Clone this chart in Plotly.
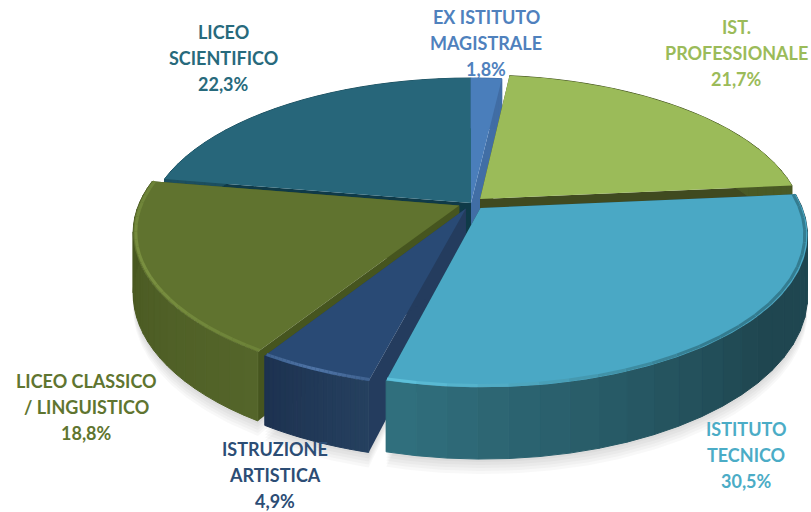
import numpy as np
import plotly.graph_objects as go

# --- data (clockwise from 12 o'clock) ---
categories = ["EX ISTITUTO MAGISTRALE", "IST. PROFESSIONALE", "ISTITUTO TECNICO",
              "ISTRUZIONE ARTISTICA", "LICEO CLASSICO / LINGUISTICO", "LICEO SCIENTIFICO"]
values = [1.8, 21.7, 30.5, 4.9, 18.8, 22.3]
label_lines = [["EX ISTITUTO", "MAGISTRALE", "1,8%"],
               ["IST.", "PROFESSIONALE", "21,7%"],
               ["ISTITUTO", "TECNICO", "30,5%"],
               ["ISTRUZIONE", "ARTISTICA", "4,9%"],
               ["LICEO CLASSICO", "/ LINGUISTICO", "18,8%"],
               ["LICEO", "SCIENTIFICO", "22,3%"]]

# --- styling / layout ---
label_x = [486, 736, 746, 275, 86, 223]
label_y = [17, 27, 429, 449, 381, 32]
label_step = 26
label_colors = ["#4f81bd", "#9bbb59", "#4bacc6", "#2c4d75", "#5f7530", "#276a7c"]
top_colors = ["#4a7ebb", "#9bbb59", "#4aa8c5", "#294a75", "#60732f", "#27667a"]
side_colors = ["#416ea5", "#404a20", "#1f4650", "#243c5e", "#46551f", "#0f3a48"]
wall_near = ["#416ea5", "#4a5a25", "#31707f", "#25405f", "#54652a", "#1c4f5f"]
wall_far = ["#416ea5", "#4a5a25", "#1f4650", "#1d3250", "#46551f", "#1c4f5f"]
rim_near = [None, None, "#5fc3de", "#4f74a6", "#7a9040", None]
rim_far = [None, None, "#347c90", "#3f6290", "#6c8238", None]
explode = [0.0, 0.04, 0.045, 0.04, 0.04, 0.0]
draw_order = [5, 0, 1, 4, 3, 2]
CX, CY, RX, RY, K, DEPTH = 471, 203, 320, 146.5, 0.172, 59


def project(a, b, z=0.0):
    s = 1.0 / (1.0 - K * np.asarray(b))
    return CX + RX * np.asarray(a) * s, CY + RY * np.asarray(b) * s + DEPTH * z * s


def mix(c1, c2, t):
    p = [int(c1[i:i + 2], 16) for i in (1, 3, 5)]
    q = [int(c2[i:i + 2], 16) for i in (1, 3, 5)]
    return "rgb(%d,%d,%d)" % tuple(round(u + (v - u) * t) for u, v in zip(p, q))


fig = go.Figure()


def poly(x, y, color, lw=0.0):
    fig.add_trace(go.Scatter(x=list(x), y=list(y), mode="lines", fill="toself", fillcolor=color,
                             line=dict(width=lw, color=color), hoverinfo="skip", showlegend=False))


def stroke(x, y, color, width):
    fig.add_trace(go.Scatter(x=list(x), y=list(y), mode="lines", line=dict(width=width, color=color),
                             hoverinfo="skip", showlegend=False))


edges = np.cumsum([0] + values) / sum(values) * 2 * np.pi
slices = []
for i in range(len(values)):
    th = np.linspace(edges[i], edges[i + 1], max(8, int(values[i] * 4)))
    mid = (edges[i] + edges[i + 1]) / 2
    oa, ob = explode[i] * np.sin(mid), -explode[i] * np.cos(mid)
    slices.append((th, oa, ob))

# soft ground shadow beneath the front slices
for step in (15, 12, 9, 6, 3):
    for i in (4, 3, 2):
        th, oa, ob = slices[i]
        t = th[np.cos(th) < 0.25]
        ax, ay = project(oa + np.sin(t), ob - np.cos(t), 1.0)
        tx, ty = project(oa, ob, 1.0)
        poly(np.r_[tx, ax, tx], np.r_[ty, ay + step, ty], "rgba(0,0,0,0.028)")

for i in draw_order:
    th, oa, ob = slices[i]
    a, b = oa + np.sin(th), ob - np.cos(th)
    # radial side walls
    for j in (0, -1):
        tipx, tipy = project(oa, ob)
        tipx2, tipy2 = project(oa, ob, 1.0)
        ex, ey = project(a[j], b[j])
        ex2, ey2 = project(a[j], b[j], 1.0)
        poly([tipx, ex, ex2, tipx2, tipx], [tipy, ey, ey2, tipy2, tipy], side_colors[i])
    # curved outer wall, in strips for the shading
    fine = np.linspace(th[0], th[-1], 25)
    fa, fb = oa + np.sin(fine), ob - np.cos(fine)
    fx, fy = project(fa, fb)
    fx2, fy2 = project(fa, fb, 1.0)
    n = len(fine) - 1
    for k in range(n):
        t = (k + 0.5) / n
        u = min(1.0, (1 - t) * 1.7) if i == 2 else t
        col = mix(wall_near[i], wall_far[i], u) if i == 2 else mix(wall_far[i], wall_near[i], 1 - u)
        poly([fx[k], fx[k + 1], fx2[k + 1], fx2[k], fx[k]], [fy[k], fy[k + 1], fy2[k + 1], fy2[k], fy[k]], col, 1.0)
    # top face
    tx, ty = project(np.r_[oa, a, oa], np.r_[ob, b, ob])
    poly(tx, ty, top_colors[i])
    # bevel along the front rim
    if rim_near[i]:
        ra, rb = oa + 0.992 * np.sin(fine), ob - 0.992 * np.cos(fine)
        rx, ry = project(ra, rb)
        for k in range(n):
            if np.cos(fine[k]) > 0.35:
                continue
            t = (k + 0.5) / n
            v = min(1.0, (1 - t) * 2.2) if i == 2 else abs(t - 0.5) * 2
            stroke(rx[k:k + 2], ry[k:k + 2], mix(rim_near[i], rim_far[i], v), 3)

annotations = []
for lines, lx, ly, col in zip(label_lines, label_x, label_y, label_colors):
    for n, line in enumerate(lines):
        annotations.append(dict(x=lx, y=ly + n * label_step, text="<b>%s</b>" % line, showarrow=False,
                                xanchor="center", yanchor="middle",
                                font=dict(family="Lato", size=18, color=col)))

fig.update_layout(width=811, height=512, margin=dict(l=0, r=0, t=0, b=0), showlegend=False,
                  paper_bgcolor="white", plot_bgcolor="white", annotations=annotations,
                  xaxis=dict(range=[0, 811], visible=False, fixedrange=True),
                  yaxis=dict(range=[512, 0], visible=False, fixedrange=True))
fig.write_html("out.html", config=dict(displayModeBar=False),
               post_script="document.body.style.margin='0';document.documentElement.style.overflow='hidden';")
